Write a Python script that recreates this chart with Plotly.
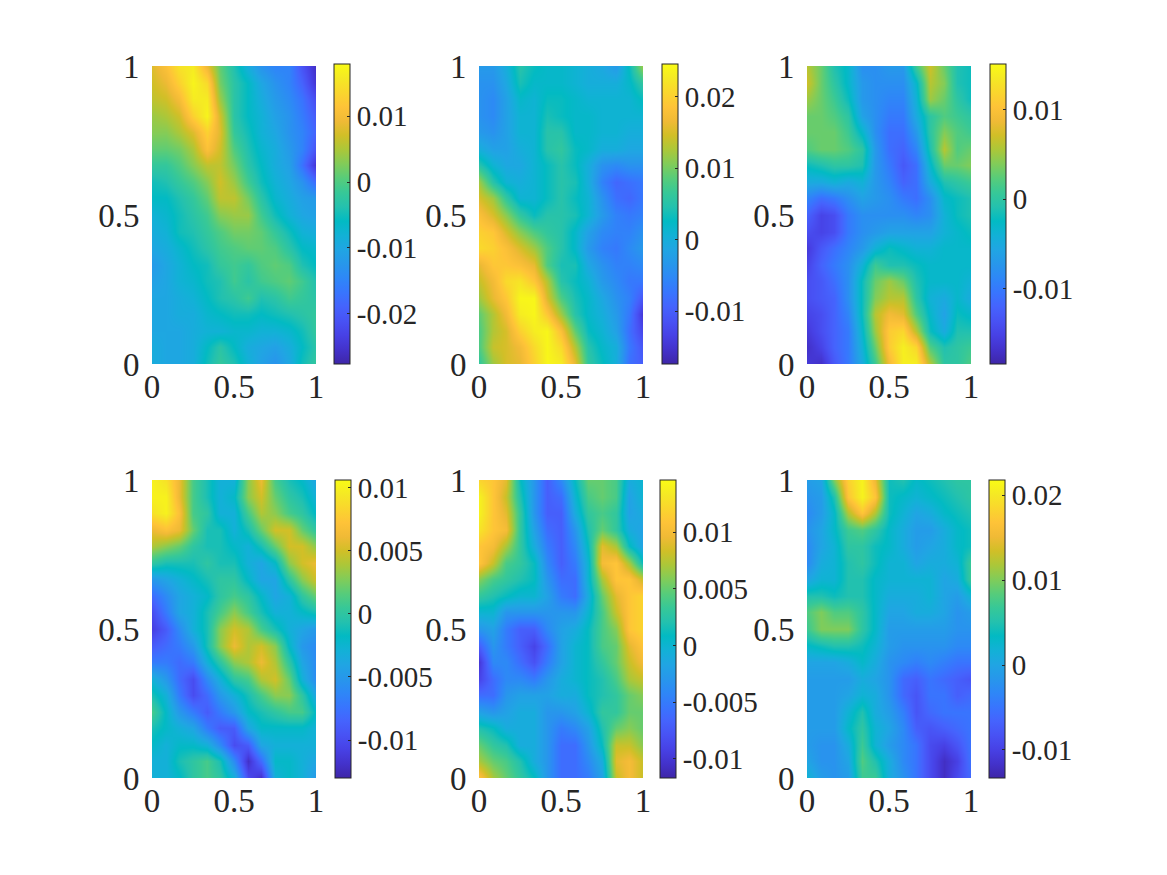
import plotly.graph_objects as go

W, H = 1167, 875
x_vals = [0, 0.0833, 0.1667, 0.25, 0.3333, 0.4167, 0.5, 0.5833, 0.6667, 0.75, 0.8333, 0.9167, 1]
y_vals = [1, 0.9444, 0.8889, 0.8333, 0.7778, 0.7222, 0.6667, 0.6111, 0.5556, 0.5, 0.4444, 0.3889, 0.3333, 0.2778, 0.2222, 0.1667, 0.1111, 0.0556, 0]
axis_ticks = [0, 0.5, 1]
axis_labels = ["0", "0.5", "1"]

# values in thousandths, rows from y=1 down to y=0
z1 = [[8,11,15,16,9,1,-4,-9,-13,-15,-15,-21,-26],
      [7,9,13,17,14,2,-3,-6,-10,-13,-15,-19,-25],
      [6,7,10,16,16,4,-3,-6,-9,-12,-14,-17,-22],
      [4,5,7,13,17,7,-3,-6,-8,-11,-13,-16,-20],
      [3,3,5,8,13,8,-2,-5,-8,-10,-13,-15,-19],
      [1,1,2,5,11,7,0,-4,-7,-9,-12,-15,-21],
      [-2,-2,0,3,6,6,2,-3,-6,-9,-11,-17,-25],
      [-5,-4,-2,0,3,7,4,-1,-5,-8,-10,-13,-18],
      [-6,-6,-4,-2,1,6,6,2,-3,-7,-9,-11,-12],
      [-8,-7,-5,-3,-1,3,4,4,-1,-5,-8,-10,-11],
      [-9,-8,-5,-4,-2,0,2,2,1,-2,-5,-8,-9],
      [-10,-9,-7,-5,-3,-1,0,1,1,0,-3,-6,-7],
      [-12,-10,-8,-6,-5,-2,-1,-2,0,1,0,-4,-6],
      [-11,-10,-8,-7,-5,-4,-1,-3,-1,0,1,-1,-4],
      [-10,-10,-9,-8,-6,-4,-3,-1,-4,-3,-1,-2,-3],
      [-10,-10,-9,-9,-7,-6,-5,-5,-6,-5,-4,-3,-2],
      [-10,-10,-10,-9,-8,-8,-7,-7,-8,-8,-7,-5,-2],
      [-9,-10,-10,-9,-6,-3,-6,-9,-10,-11,-9,-6,-3],
      [-9,-10,-10,-9,-5,-2,-4,-8,-11,-13,-10,-5,-2]]
z2 = [[-3,-3,0,5,3,2,2,1,0,-1,-3,3,12],
      [-4,-4,-1,4,2,2,2,1,0,0,0,2,6],
      [-4,-5,-2,2,1,3,3,2,1,1,1,1,3],
      [-4,-5,-2,1,1,4,3,2,2,1,1,1,1],
      [-3,-4,-2,1,1,5,5,2,2,1,1,0,0],
      [0,-2,-2,0,1,5,6,3,2,0,0,-1,-1],
      [5,1,-1,-1,1,3,5,3,0,-4,-5,-4,-4],
      [12,5,1,0,1,3,5,4,0,-6,-9,-8,-7],
      [15,12,6,1,1,3,5,3,1,-4,-8,-9,-7],
      [18,15,11,6,3,5,5,4,1,-3,-6,-7,-6],
      [20,19,15,11,8,6,5,2,-2,-5,-6,-6,-4],
      [21,20,18,15,12,8,5,2,-3,-6,-7,-5,-3],
      [16,19,19,18,16,8,4,4,-1,-4,-6,-6,-5],
      [14,17,21,22,19,13,5,3,1,-3,-5,-7,-7],
      [12,16,19,24,24,15,8,4,2,-1,-4,-6,-11],
      [9,13,17,23,24,19,12,5,2,0,-3,-7,-15],
      [8,13,15,20,23,24,18,9,3,1,-2,-8,-13],
      [8,14,15,17,21,24,21,13,5,2,0,-7,-11],
      [6,12,15,16,20,24,23,16,6,3,0,-8,-10]]
z3 = [[6,3,-1,-3,-8,-8,-7,-7,1,7,3,-1,-2],
      [7,3,0,-3,-7,-8,-8,-8,-3,6,4,-1,-2],
      [5,3,1,-2,-7,-8,-9,-9,-4,5,3,0,-2],
      [3,3,2,0,-6,-8,-10,-10,-5,0,2,1,0],
      [3,3,3,1,-3,-8,-11,-11,-7,0,4,2,1],
      [2,3,3,2,0,-7,-11,-12,-9,-1,6,2,3],
      [-2,-1,0,0,-1,-7,-10,-13,-11,-3,3,3,4],
      [-5,-5,-4,-5,-4,-7,-9,-12,-11,-5,-1,0,1],
      [-9,-11,-10,-8,-6,-7,-8,-10,-11,-8,-3,-2,-1],
      [-12,-15,-14,-10,-8,-8,-8,-8,-9,-8,-4,-2,-1],
      [-14,-15,-14,-10,-8,-7,-6,-6,-6,-6,-4,-3,-2],
      [-16,-13,-11,-9,-7,-4,-2,-3,-4,-4,-3,-3,-3],
      [-15,-12,-10,-8,-4,1,-1,-1,-2,-3,-3,-3,-3],
      [-14,-13,-11,-8,-2,3,5,3,-1,-3,-3,-3,-4],
      [-14,-13,-12,-8,-2,4,6,6,0,-4,-5,-3,-5],
      [-15,-14,-12,-9,-2,6,9,8,2,-3,-6,-2,-3],
      [-16,-14,-12,-10,-3,5,11,12,6,-2,-5,-1,-1],
      [-17,-15,-12,-10,-4,3,11,14,12,2,-1,0,1],
      [-16,-17,-13,-10,-5,1,9,14,14,6,0,0,2]]
z4 = [[10,9,6,1,-1,-3,-3,3,6,1,-1,-2,-4],
      [10,10,6,1,-1,-3,-2,3,5,2,0,-1,-3],
      [9,10,7,1,0,-3,-3,1,4,3,1,0,-2],
      [6,7,6,2,-1,-1,-3,-1,2,5,5,2,0],
      [4,3,2,0,-1,-1,-2,-3,-1,2,5,5,3],
      [0,-1,-1,-1,0,-1,-1,-3,-4,-2,3,5,6],
      [-5,-4,-3,-2,-1,0,0,-2,-4,-4,0,3,5],
      [-8,-6,-4,-3,-2,0,1,0,-2,-4,-3,0,2],
      [-10,-7,-4,-3,-1,1,3,1,-1,-3,-3,-2,-1],
      [-11,-9,-6,-3,-1,3,5,4,1,-1,-3,-4,-5],
      [-9,-8,-7,-5,-1,3,6,4,5,3,-2,-5,-6],
      [-7,-7,-8,-7,-3,0,3,4,6,4,0,-4,-6],
      [-3,-5,-8,-10,-6,-3,0,1,4,5,2,-3,-6],
      [-1,-3,-7,-10,-8,-5,-3,-1,1,3,3,0,-4],
      [1,-2,-5,-7,-9,-7,-5,-2,-1,0,1,1,-2],
      [-1,-2,-3,-4,-7,-9,-9,-4,-2,-2,-2,-2,-3],
      [-2,-3,-2,-2,-3,-6,-10,-9,-4,-3,-3,-3,-3],
      [-3,-3,-1,0,1,-1,-6,-12,-8,-2,-2,-3,-4],
      [-3,-3,-2,0,1,0,-3,-10,-12,-3,-2,-3,-5]]
z5 = [[12,11,9,1,-3,-7,-4,1,5,5,4,-1,0],
      [14,11,8,2,-3,-7,-6,0,4,5,4,-2,0],
      [14,11,9,3,-3,-7,-7,-1,3,4,3,-2,-1],
      [13,11,10,3,-2,-6,-7,-3,2,5,3,-1,-2],
      [11,10,7,3,-1,-5,-7,-4,1,9,7,1,-2],
      [11,8,4,3,1,-4,-7,-5,0,10,11,7,1],
      [6,4,3,2,1,-3,-6,-6,0,7,11,11,8],
      [3,2,1,0,0,-2,-5,-6,-1,5,9,11,12],
      [0,0,-3,-3,-3,-3,-3,-3,0,4,8,11,12],
      [-3,-2,-5,-7,-7,-4,-2,-1,1,4,6,11,12],
      [-7,-3,-5,-7,-9,-6,-2,0,1,4,5,9,11],
      [-10,-4,-4,-6,-8,-5,-2,0,1,3,5,8,10],
      [-9,-6,-4,-4,-5,-3,-1,0,1,2,4,7,8],
      [-6,-6,-3,-2,-2,-2,-1,-1,1,2,3,5,6],
      [-2,-3,-2,-1,-1,-3,-3,-2,0,3,3,5,5],
      [2,1,-1,-1,-1,-3,-5,-4,-2,2,5,6,5],
      [5,3,2,-1,-1,-3,-6,-6,-3,1,8,8,6],
      [7,5,4,2,-1,-3,-6,-6,-4,-1,9,10,8],
      [11,7,5,3,1,-3,-6,-6,-5,-2,8,10,8]]
z6 = [[-1,0,10,18,21,15,4,5,3,4,5,6,6],
      [-2,-1,5,17,21,17,4,3,2,3,4,5,6],
      [-3,-1,3,12,17,12,4,2,0,1,3,4,5],
      [-2,0,3,7,8,6,3,1,-1,-1,1,3,4],
      [-3,0,2,6,6,4,3,1,-1,0,1,3,4],
      [-3,1,2,5,6,4,2,2,0,1,1,2,7],
      [0,2,2,5,5,3,2,2,2,2,0,1,7],
      [5,5,4,5,5,3,1,1,1,2,0,-1,2],
      [8,10,8,8,6,3,0,0,1,1,0,-2,-1],
      [7,10,10,10,6,3,-1,-1,-1,-1,-1,-2,-2],
      [3,4,5,5,4,2,-1,-2,-2,-2,-2,-3,-3],
      [0,0,0,1,3,1,-2,-3,-4,-3,-4,-5,-5],
      [-1,-1,-1,-1,1,0,-2,-6,-7,-5,-6,-7,-8],
      [-1,-1,-1,0,2,1,-2,-6,-8,-5,-5,-7,-6],
      [-1,-1,-1,2,5,1,-1,-4,-8,-6,-5,-5,-5],
      [-1,-1,-1,3,6,2,0,-3,-7,-8,-7,-6,-5],
      [-1,-2,-2,1,7,2,-1,-3,-5,-9,-10,-8,-5],
      [0,-2,-2,0,8,5,1,-3,-5,-9,-12,-10,-5],
      [2,-1,-2,-1,7,7,1,-2,-5,-9,-12,-9,-6]]

z_min = [-27.6, -17.4, -18.4, -13.0, -11.7, -13.3]
z_max = [17.9, 24.6, 15.1, 10.6, 14.6, 21.8]
cb_vals = [[0.01, 0, -0.01, -0.02],
           [0.02, 0.01, 0, -0.01],
           [0.01, 0, -0.01],
           [0.01, 0.005, 0, -0.005, -0.01],
           [0.01, 0.005, 0, -0.005, -0.01],
           [0.02, 0.01, 0, -0.01]]
cb_text = [["0.01", "0", "-0.01", "-0.02"],
           ["0.02", "0.01", "0", "-0.01"],
           ["0.01", "0", "-0.01"],
           ["0.01", "0.005", "0", "-0.005", "-0.01"],
           ["0.01", "0.005", "0", "-0.005", "-0.01"],
           ["0.02", "0.01", "0", "-0.01"]]

parula = [[0.2422,0.1504,0.6603],[0.2647,0.1978,0.7952],[0.2783,0.2559,0.8991],[0.2810,0.3228,0.9579],
          [0.2699,0.3892,0.9906],[0.2206,0.4603,0.9973],[0.1786,0.5289,0.9682],[0.1540,0.5902,0.9218],
          [0.1248,0.6459,0.8883],[0.0689,0.6948,0.8394],[0.0067,0.7312,0.7660],[0.1408,0.7584,0.6842],
          [0.2161,0.7843,0.5923],[0.3406,0.8008,0.4789],[0.5044,0.7993,0.3480],[0.6720,0.7793,0.2227],
          [0.8203,0.7498,0.1535],[0.9393,0.7288,0.2100],[0.9970,0.7659,0.2199],[0.9786,0.8386,0.1766],
          [0.9597,0.9135,0.1423],[0.9769,0.9839,0.0805]]
scale = [[i / (len(parula) - 1), "rgb(%d,%d,%d)" % tuple(round(c * 255) for c in p)] for i, p in enumerate(parula)]

# pixel layout
plot_left = [152, 479, 807, 152, 479, 807]
plot_width = 164
plot_top = [66, 66, 66, 480, 480, 480]
plot_height = 298
cb_left = [334, 662, 990, 335, 660, 989]
cb_top = [64.5, 64.5, 64.5, 480, 480, 480]
cb_bottom = [364, 364, 364, 778, 778, 778]
cb_thick = 16

TXT = "#262626"
fig = go.Figure()
layout = {}
for i, z in enumerate([z1, z2, z3, z4, z5, z6]):
    n = "" if i == 0 else str(i + 1)
    fig.add_trace(go.Heatmap(
        x=x_vals, y=y_vals, z=[[v * 0.001 for v in row] for row in z],
        zmin=z_min[i] * 0.001, zmax=z_max[i] * 0.001, zsmooth="best",
        colorscale=scale, xaxis="x" + n, yaxis="y" + n, hoverinfo="skip",
        colorbar=dict(
            x=cb_left[i] / W, xanchor="left", xpad=0, ypad=0,
            y=1 - cb_bottom[i] / H, yanchor="bottom",
            len=(cb_bottom[i] - cb_top[i]) / H, lenmode="fraction",
            thickness=cb_thick, thicknessmode="pixels",
            outlinecolor=TXT, outlinewidth=1, borderwidth=0,
            tickmode="array", tickvals=cb_vals[i], ticktext=cb_text[i], tickprefix="\u2009",
            ticks="inside", ticklen=3, tickwidth=1, tickcolor=TXT,
            tickfont=dict(family="Liberation Serif", size=29, color=TXT),
        ),
    ))
    common = dict(tickmode="array", tickvals=axis_ticks, ticktext=axis_labels,
                  showgrid=False, zeroline=False, showline=False,
                  range=[0, 1], tickfont=dict(family="Liberation Serif", size=33, color=TXT))
    layout["xaxis" + n] = dict(common, anchor="y" + n, ticks="",
                               domain=[plot_left[i] / W, (plot_left[i] + plot_width) / W])
    layout["yaxis" + n] = dict(common, anchor="x" + n, ticks="outside", ticklen=5, tickcolor="rgba(0,0,0,0)",
                               domain=[1 - (plot_top[i] + plot_height) / H, 1 - plot_top[i] / H])

fig.update_layout(width=W, height=H, margin=dict(l=0, r=0, t=0, b=0, autoexpand=False),
                  paper_bgcolor="white", plot_bgcolor="white", showlegend=False, **layout)
fig.write_html("out.html", config=dict(displayModeBar=False),
               post_script="document.body.style.margin='0';document.body.style.overflow='hidden';")
